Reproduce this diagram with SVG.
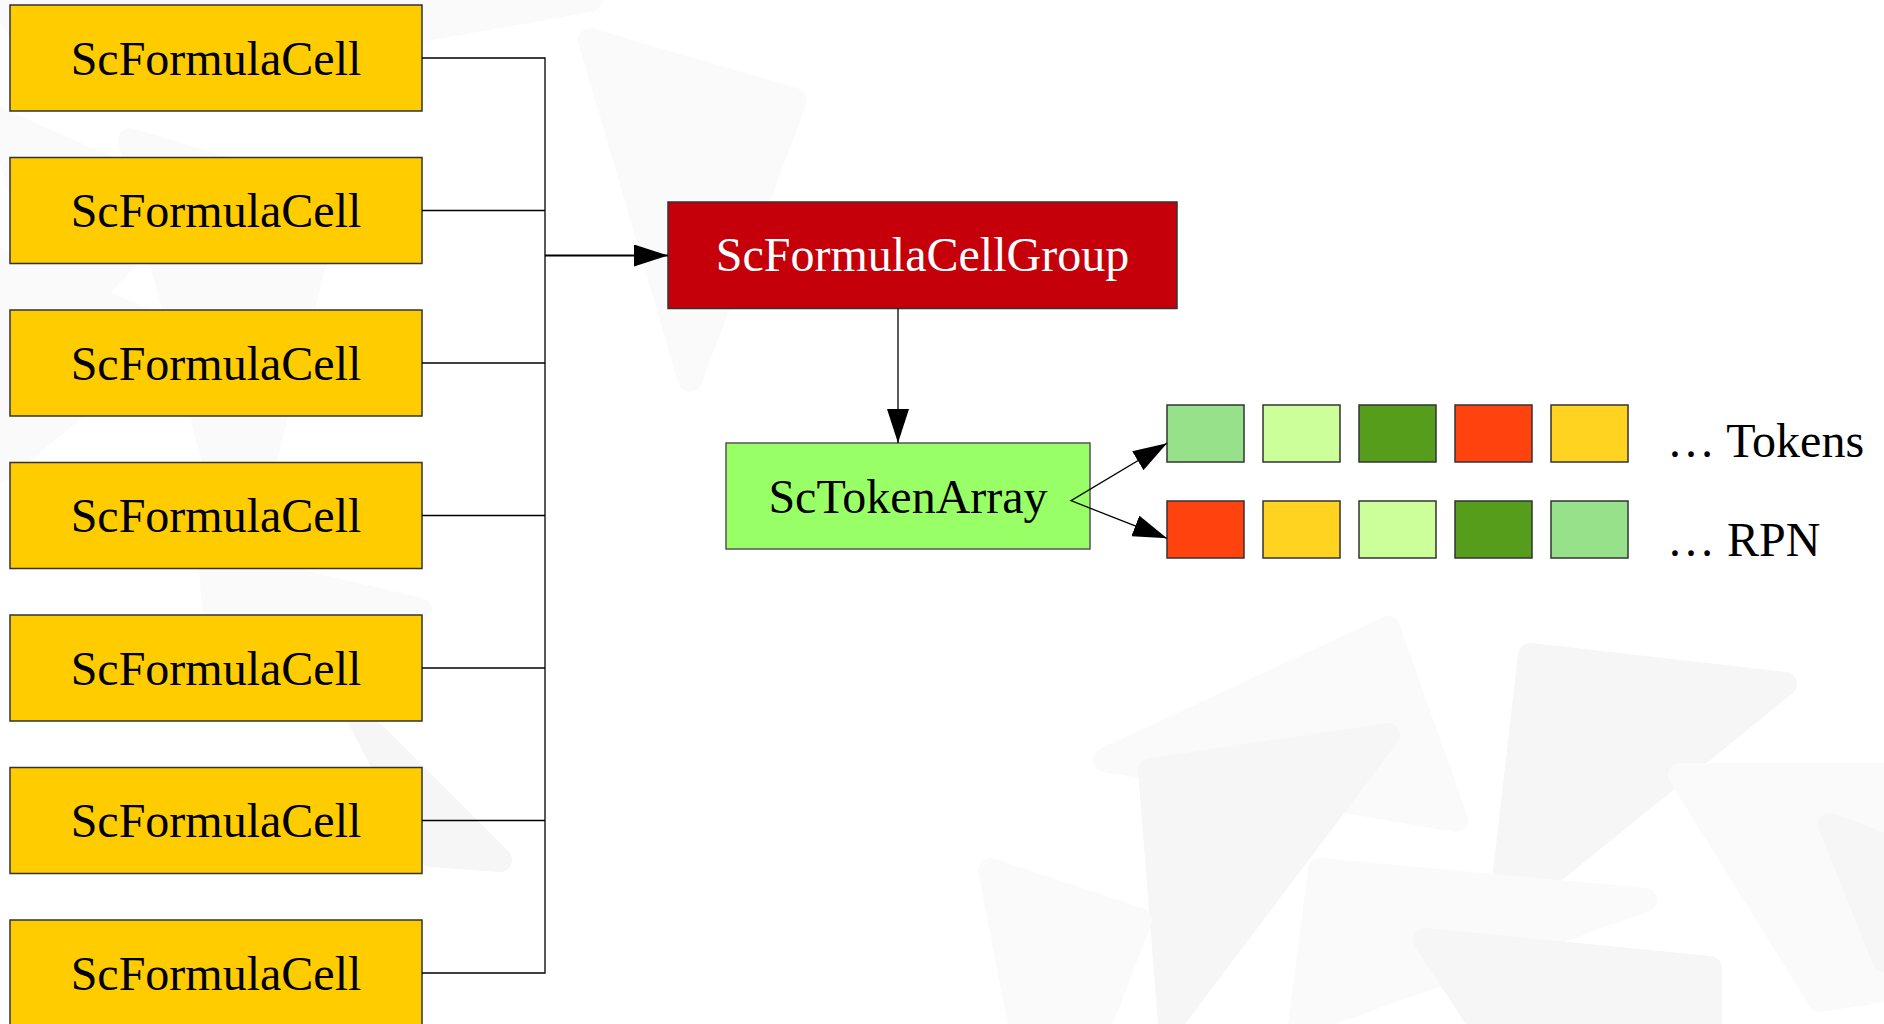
<svg xmlns="http://www.w3.org/2000/svg" width="1884" height="1024" viewBox="0 0 1884 1024">
  <style>
    .bgA { fill: #f6f6f6; stroke: #f6f6f6; stroke-width: 24; stroke-linejoin: round; }
    .bgB { fill: #fafafa; stroke: #fafafa; stroke-width: 24; stroke-linejoin: round; }
    .cell rect { fill: #ffcc00; stroke: #333333; stroke-width: 1.5; }
    .lbl { font-family: "Liberation Serif", "Times New Roman", serif; font-size: 48px; text-anchor: middle; fill: #000000; }
    .side { font-family: "Liberation Serif", "Times New Roman", serif; font-size: 48px; fill: #000000; }
    .conn { fill: none; stroke: #000000; stroke-width: 1.3; }
    .sq { stroke: #333333; stroke-width: 1.5; }
  </style>
  <defs>
    <marker id="ah" markerUnits="userSpaceOnUse" markerWidth="34" markerHeight="22" refX="34" refY="11" orient="auto" viewBox="0 0 34 22">
      <path d="M0,0 L34,11 L0,22 z" fill="#000000"/>
    </marker>
  </defs>
  <rect width="1884" height="1024" fill="#ffffff"/>
  <g id="background">
    <polygon class="bgB" points="0,0 590,0 420,30 40,60"/>
    <polygon class="bgB" points="590,40 795,100 690,380"/>
    <polygon class="bgB" points="0,120 180,200 60,330"/>
    <polygon class="bgB" points="130,140 330,200 240,560"/>
    <polygon class="bgB" points="0,260 170,330 0,470"/>
    <polygon class="bgB" points="210,560 420,610 220,680"/>
    <polygon class="bgA" points="360,720 500,860 430,855"/>
    <polygon class="bgB" points="1388,628 1105,760 1456,820"/>
    <polygon class="bgA" points="1150,770 1388,735 1170,1024"/>
    <polygon class="bgA" points="1530,655 1785,684 1500,915"/>
    <polygon class="bgB" points="1320,870 1645,900 1300,1024"/>
    <polygon class="bgA" points="1425,940 1710,968 1710,1024 1480,1024"/>
    <polygon class="bgB" points="1680,775 1884,775 1884,990 1820,1000"/>
    <polygon class="bgA" points="1830,825 1884,845 1884,960"/>
    <polygon class="bgB" points="990,870 1140,920 1100,1024 1020,1024"/>
  </g>
  <g id="cell1" class="cell"><rect x="10" y="5" width="412" height="106"/><text class="lbl" x="216" y="74.5">ScFormulaCell</text></g>
  <g id="cell2" class="cell"><rect x="10" y="157.5" width="412" height="106"/><text class="lbl" x="216" y="227">ScFormulaCell</text></g>
  <g id="cell3" class="cell"><rect x="10" y="310" width="412" height="106"/><text class="lbl" x="216" y="379.5">ScFormulaCell</text></g>
  <g id="cell4" class="cell"><rect x="10" y="462.5" width="412" height="106"/><text class="lbl" x="216" y="532">ScFormulaCell</text></g>
  <g id="cell5" class="cell"><rect x="10" y="615" width="412" height="106"/><text class="lbl" x="216" y="684.5">ScFormulaCell</text></g>
  <g id="cell6" class="cell"><rect x="10" y="767.5" width="412" height="106"/><text class="lbl" x="216" y="837">ScFormulaCell</text></g>
  <g id="cell7" class="cell"><rect x="10" y="920" width="412" height="106"/><text class="lbl" x="216" y="989.5">ScFormulaCell</text></g>
  <g id="group">
    <rect x="668" y="202" width="509" height="106.5" fill="#c5000b" stroke="#333333" stroke-width="1.5"/>
    <text class="lbl" x="922.5" y="271" style="fill:#ffffff">ScFormulaCellGroup</text>
  </g>
  <g id="tokenarray">
    <rect x="726" y="443" width="364" height="106" fill="#99ff66" stroke="#555555" stroke-width="1.5"/>
    <text class="lbl" x="908" y="513">ScTokenArray</text>
  </g>
  <g id="tokens">
    <rect class="sq" x="1167" y="405" width="77" height="57" fill="#97e18a"/>
    <rect class="sq" x="1263" y="405" width="77" height="57" fill="#ccff99"/>
    <rect class="sq" x="1359" y="405" width="77" height="57" fill="#579d1c"/>
    <rect class="sq" x="1455" y="405" width="77" height="57" fill="#ff420e"/>
    <rect class="sq" x="1551" y="405" width="77" height="57" fill="#ffd320"/>
    <text class="side" x="1667" y="457">… Tokens</text>
  </g>
  <g id="rpn">
    <rect class="sq" x="1167" y="501" width="77" height="57" fill="#ff420e"/>
    <rect class="sq" x="1263" y="501" width="77" height="57" fill="#ffd320"/>
    <rect class="sq" x="1359" y="501" width="77" height="57" fill="#ccff99"/>
    <rect class="sq" x="1455" y="501" width="77" height="57" fill="#579d1c"/>
    <rect class="sq" x="1551" y="501" width="77" height="57" fill="#97e18a"/>
    <text class="side" x="1667" y="556">… RPN</text>
  </g>
  <g id="connectors">
    <polyline class="conn" points="422,58 545,58 545,973 422,973"/>
    <line class="conn" x1="422" y1="210.5" x2="545" y2="210.5"/>
    <line class="conn" x1="422" y1="363" x2="545" y2="363"/>
    <line class="conn" x1="422" y1="515.5" x2="545" y2="515.5"/>
    <line class="conn" x1="422" y1="668" x2="545" y2="668"/>
    <line class="conn" x1="422" y1="820.5" x2="545" y2="820.5"/>
    <line x1="545" y1="255.5" x2="668" y2="255.5" stroke="#000" stroke-width="2.2" marker-end="url(#ah)"/>
    <line class="conn" x1="898" y1="308.5" x2="898" y2="443" marker-end="url(#ah)"/>
    <polyline class="conn" points="1167,443.3 1071,500.7 1167,538.3"/>
    <line x1="1071" y1="500.7" x2="1167" y2="443.3" stroke="none" marker-end="url(#ah)"/>
    <line x1="1071" y1="500.7" x2="1167" y2="538.3" stroke="none" marker-end="url(#ah)"/>
  </g>
</svg>
